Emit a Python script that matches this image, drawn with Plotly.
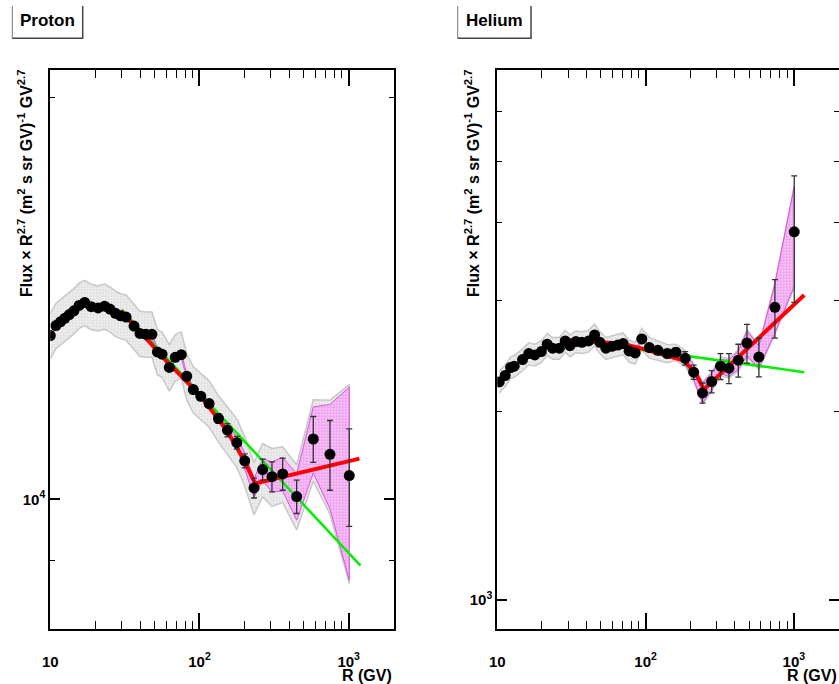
import math
import plotly.graph_objects as go

W, H = 839, 684

# ---------------- Proton data ----------------
p_R = [10.0, 10.9, 11.7, 12.5, 13.4, 14.4, 15.6, 17.0, 18.8, 20.9,
       23.1, 25.1, 27.3, 29.6, 32.2, 36.4, 39.9, 43.8, 48.0, 52.2,
       56.1, 62.8, 68.8, 75.5, 82.1, 90.9, 102, 116, 134, 154,
       178, 201, 232, 265, 306, 361, 448, 579, 749, 1009]
p_V = [13270, 13500, 13590, 13670, 13760, 13850, 13980, 14050, 13950, 13920,
       13960, 13890, 13790, 13730, 13700, 13490, 13320, 13300, 13300, 12900,
       12850, 12560, 12780, 12840, 12370, 12090, 11950, 11800, 11500, 11270,
       11030, 10690, 10200, 10530, 10400, 10450, 10050, 11100, 10810, 10420]
p_err = [40, 40, 40, 40, 40, 40, 40, 40, 40, 40,
         40, 40, 40, 45, 45, 45, 45, 50, 50, 50,
         55, 55, 60, 60, 65, 70, 75, 80, 95, 130,
         120, 130, 175, 190, 270, 290, 290, 440, 650, 875]
p_gray_pct = [3.9, 3.9, 3.9, 3.9, 3.9, 3.9, 3.9, 3.9, 3.9, 3.9,
              3.9, 3.9, 3.9, 3.9, 3.9, 3.9, 3.9, 3.9, 3.9, 3.9,
              3.9, 4.0, 4.0, 4.0, 4.0, 4.0, 4.0, 4.0, 4.0, 4.1,
              4.2, 4.3, 4.5, 4.6, 5.0, 4.8, 5.6, 7.0, 9.8, 17.0]
p_pink_pct = [0.4, 0.4, 0.4, 0.4, 0.4, 0.4, 0.4, 0.4, 0.4, 0.4,
              0.4, 0.4, 0.4, 0.4, 0.4, 0.4, 0.4, 0.4, 0.4, 0.4,
              0.4, 0.4, 0.4, 0.4, 0.4, 0.4, 0.5, 0.5, 0.6, 0.9,
              1.0, 1.4, 1.6, 1.9, 2.6, 2.9, 4.0, 5.7, 9.0, 16.5]
p_green_R = [30, 1200]
p_green_V = [13880, 8920]
p_red_R = [30, 60, 100, 150, 200, 225, 236, 1180]
p_red_V = [13840, 12700, 11980, 11300, 10690, 10370, 10280, 10730]

# ---------------- Helium data ----------------
h_R = [10.3, 11.3, 12.3, 13.0, 14.8, 16.3, 17.9, 19.8, 21.7, 23.6,
       26.2, 28.7, 30.9, 33.9, 37.2, 41.3, 45.3, 49.2, 54.0, 59.2,
       65.0, 70.6, 77.4, 85.0, 94.3, 106, 121, 140, 160, 185,
       211, 242, 279, 320, 365, 422, 483, 581, 745, 1006]
h_V = [2226, 2279, 2347, 2358, 2416, 2470, 2458, 2488, 2556, 2519,
       2519, 2587, 2543, 2581, 2574, 2587, 2645, 2574, 2519, 2537,
       2549, 2562, 2494, 2476, 2606, 2525, 2500, 2470, 2482, 2428,
       2307, 2138, 2229, 2358, 2341, 2411, 2567, 2440, 2927, 3861]
h_err = [10, 10, 10, 10, 10, 10, 10, 10, 10, 10,
         10, 10, 12, 12, 12, 12, 13, 13, 14, 15,
         16, 17, 18, 20, 22, 25, 30, 37, 37, 60,
         60, 79, 91, 112, 129, 145, 182, 173, 312, 880]
h_gray_pct = [4.0, 4.0, 4.0, 4.0, 4.0, 4.0, 4.0, 4.0, 4.0, 4.0,
              4.0, 4.0, 4.0, 4.0, 4.0, 4.0, 4.0, 4.0, 4.0, 4.0,
              4.0, 4.0, 4.0, 4.0, 4.0, 3.8, 3.6, 3.3, 3.0, 2.9,
              3.2, 4.0, 3.6, 3.4, 3.6, 3.9, 5.0, 4.6, 9.3, 18.5]
h_pink_pct = [0.5, 0.5, 0.5, 0.5, 0.5, 0.5, 0.5, 0.5, 0.5, 0.5,
              0.5, 0.5, 0.5, 0.5, 0.5, 0.5, 0.5, 0.5, 0.5, 0.5,
              0.5, 0.5, 0.6, 0.6, 0.7, 0.8, 1.0, 1.2, 1.4, 2.0,
              2.6, 3.7, 3.0, 2.6, 3.0, 3.3, 4.5, 4.0, 9.0, 18.0]
h_green_R = [30, 1175]
h_green_V = [2600, 2307]
h_red_R = [30, 45, 70, 92, 138, 179, 215, 247, 1175]
h_red_V = [2595, 2577, 2562, 2520, 2455, 2410, 2309, 2165, 3062]

# ---------------- axes / ticks ----------------
x_range = [10, 2000]
p_y_range = [8000, 21000]
h_y_range = [900, 7000]
x_major = [10, 100, 1000]
x_major_text = ["10", "10<sup>2</sup>", "10<sup>3</sup>"]
x_minor = [20, 30, 40, 50, 60, 70, 80, 90, 200, 300, 400, 500, 600, 700, 800, 900]
p_y_major = [10000]
p_y_major_text = ["10<sup>4</sup>"]
p_y_minor = [9000, 20000]
h_y_major = [1000]
h_y_major_text = ["10<sup>3</sup>"]
h_y_minor = [2000, 3000, 4000, 5000, 6000]

FONT = "Liberation Sans"


def px(v):
    return v / W


def py(v):
    return 1 - v / H


def band(R, V, pct):
    up = [v * (1 + p / 100.0) for v, p in zip(V, pct)]
    lo = [v * (1 - p / 100.0) for v, p in zip(V, pct)]
    return list(R) + list(R)[::-1], up + lo[::-1]


fig = go.Figure()


def add_panel(xa, ya, R, V, err, gray, pink, gR, gV, rR, rV):
    bx, by = band(R, V, gray)
    fig.add_trace(go.Scatter(
        x=bx, y=by, xaxis=xa, yaxis=ya, mode="lines", fill="toself",
        fillcolor="#e9e9e9", line=dict(color="#c8c8c8", width=1.5),
        fillpattern=dict(shape=".", fgcolor="#b8b8b8", bgcolor="#f0f0f0",
                         size=3, solidity=0.3),
        hoverinfo="skip"))
    bx, by = band(R, V, pink)
    fig.add_trace(go.Scatter(
        x=bx, y=by, xaxis=xa, yaxis=ya, mode="lines", fill="toself",
        fillcolor="#f4b4f4", line=dict(color="#e050e0", width=1),
        fillpattern=dict(shape=".", fgcolor="#d84ad8", bgcolor="#f8c8f8",
                         size=3, solidity=0.4),
        hoverinfo="skip"))
    fig.add_trace(go.Scatter(
        x=gR, y=gV, xaxis=xa, yaxis=ya, mode="lines",
        line=dict(color="#00ee00", width=2.5)))
    fig.add_trace(go.Scatter(
        x=rR, y=rV, xaxis=xa, yaxis=ya, mode="lines",
        line=dict(color="#ff0000", width=4)))
    fig.add_trace(go.Scatter(
        x=R, y=V, xaxis=xa, yaxis=ya, mode="markers",
        marker=dict(size=11, color="black"),
        error_y=dict(type="data", array=err, color="#333333",
                     thickness=1.3, width=3)))


add_panel("x", "y", p_R, p_V, p_err, p_gray_pct, p_pink_pct,
          p_green_R, p_green_V, p_red_R, p_red_V)
add_panel("x2", "y2", h_R, h_V, h_err, h_gray_pct, h_pink_pct,
          h_green_R, h_green_V, h_red_R, h_red_V)

y_dom = [py(628.7), py(69.7)]


def xaxis(domain, anchor):
    return dict(
        type="log", range=[math.log10(x_range[0]), math.log10(x_range[1])],
        domain=domain, anchor=anchor, automargin=False,
        showline=True, linewidth=2, linecolor="black", mirror="ticks",
        ticks="inside", ticklen=16, tickwidth=1.5, tickcolor="black",
        tickmode="array", tickvals=x_major, ticktext=x_major_text,
        tickfont=dict(family=FONT, size=15, color="black", weight="bold"),
        ticklabelstandoff=18,
        minor=dict(tickmode="array", tickvals=x_minor, ticks="inside",
                   ticklen=8, tickwidth=1.2, tickcolor="black"),
        showgrid=False, zeroline=False)


def yaxis(domain, anchor, rng, major, major_text, minor):
    return dict(
        type="log", range=[math.log10(rng[0]), math.log10(rng[1])],
        domain=domain, anchor=anchor, automargin=False,
        showline=True, linewidth=2, linecolor="black", mirror="ticks",
        ticks="inside", ticklen=10, tickwidth=1.5, tickcolor="black",
        tickmode="array", tickvals=major, ticktext=major_text,
        tickfont=dict(family=FONT, size=15, color="black", weight="bold"),
        minor=dict(tickmode="array", tickvals=minor, ticks="inside",
                   ticklen=5, tickwidth=1.2, tickcolor="black"),
        showgrid=False, zeroline=False)


ytitle = ("Flux \u00d7 R<sup>2.7</sup> (m<sup>2</sup> s sr GV)<sup>-1</sup>"
          " GV<sup>2.7</sup>")
afont = dict(family=FONT, size=16, color="black", weight="bold")
lfont = dict(family=FONT, size=17, color="black", weight="bold")

annotations = []
shapes = []
for (ylab_x, xend, label, bx0, bx1, lab_x) in [
        (25.5, 393.6, "Proton", 12.3, 82.7, 47),
        (472.5, 838.5, "Helium", 457.7, 531.0, 494)]:
    annotations.append(dict(text=ytitle, textangle=-90, x=px(ylab_x), y=py(68),
                            xref="paper", yref="paper", xanchor="center",
                            yanchor="top", showarrow=False, font=afont))
    annotations.append(dict(text="R (GV)", x=px(xend), y=py(675), xref="paper",
                            yref="paper", xanchor="right", yanchor="middle",
                            showarrow=False, font=afont))
    annotations.append(dict(text=label, x=px(lab_x), y=py(21), xref="paper",
                            yref="paper", xanchor="center", yanchor="middle",
                            showarrow=False, font=lfont))
    shapes.append(dict(type="line", xref="paper", yref="paper",
                       x0=px(bx0), x1=px(bx0), y0=py(6), y1=py(38.3),
                       line=dict(color="#777777", width=1)))
    shapes.append(dict(type="path", xref="paper", yref="paper",
                       path="M %f,%f L %f,%f L %f,%f" % (
                           px(bx0), py(38.3), px(bx1), py(38.3), px(bx1), py(6)),
                       line=dict(color="#444444", width=1.5)))

fig.update_layout(
    width=W, height=H,
    margin=dict(l=0, r=0, t=0, b=0, pad=0, autoexpand=False),
    paper_bgcolor="white", plot_bgcolor="white", showlegend=False,
    xaxis=xaxis([px(50.3), px(393.6)], "y"),
    yaxis=yaxis(y_dom, "x", p_y_range, p_y_major, p_y_major_text, p_y_minor),
    xaxis2=xaxis([px(497.3), px(838.5)], "y2"),
    yaxis2=yaxis(y_dom, "x2", h_y_range, h_y_major, h_y_major_text, h_y_minor),
    annotations=annotations, shapes=shapes,
    font=dict(family=FONT),
)

fig.write_html("out.html",
               config={"displayModeBar": False},
               post_script="document.body.style.margin='0';"
                           "document.body.style.overflow='hidden';")
